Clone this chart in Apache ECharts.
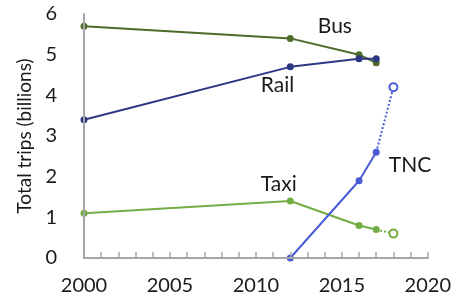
<!DOCTYPE html>
<html>
<head>
<meta charset="utf-8">
<script src="https://cdn.jsdelivr.net/npm/echarts@6/dist/echarts.min.js"></script>
<style>
  html, body { margin: 0; padding: 0; background: #fff; }
  #chart { width: 454px; height: 303px; }
</style>
</head>
<body>
<div id="chart"></div>
<script>
// values (billions of trips)
const busYears = [2000, 2012, 2016, 2017]
const busTrips = [5.7, 5.4, 5.0, 4.8]
const railYears = [2000, 2012, 2016, 2017]
const railTrips = [3.4, 4.7, 4.9, 4.9]
const taxiYears = [2000, 2012, 2016, 2017]
const taxiTrips = [1.1, 1.4, 0.8, 0.7]
const taxiEstYear = 2018
const taxiEst = 0.6
const tncYears = [2012, 2016, 2017]
const tncTrips = [0, 1.9, 2.6]
const tncEstYear = 2018
const tncEst = 4.2

const font = 'Lato, sans-serif'

// build points; one point per series carries the series name as its label
function points(xs, ys, labelAt, text, offset) {
    return xs.map((x, i) => {
        if (i !== labelAt) return [x, ys[i]]
        return {
            value: [x, ys[i]],
            label: {
                show: true, formatter: text, position: offset,
                fontFamily: font, fontSize: 21, color: '#1a1a1a'
            }
        }
    })
}

function solid(name, data, color) {
    return {
        name, type: 'line', data, color,
        symbol: 'circle', symbolSize: 7,
        lineStyle: { width: 2, color },
        itemStyle: { color }
    }
}
function dotted(name, from, to, color) {
    return {
        name: name + ' est', type: 'line', color,
        data: [{ value: from, symbol: 'none' }, { value: to }],
        symbol: 'emptyCircle', symbolSize: 8,
        lineStyle: { width: 2, type: [2, 2], color },
        itemStyle: { color, borderWidth: 1.5 }
    }
}

const colBus = '#4e6b2c'
const colRail = '#2d3784'
const colTaxi = '#72ad45'
const colTnc = '#4a5bd6'
const axisCol = '#a6a6a6'

const chart = echarts.init(document.getElementById('chart'))
chart.setOption({
    animation: false,
    grid: { left: 84, right: 24, top: 14, bottom: 45 },
    xAxis: {
        type: 'value', min: 2000, max: 2020, interval: 5, z: 10,
        axisLine: { show: true, onZero: false, lineStyle: { color: axisCol, width: 2 } },
        axisTick: { show: true, inside: true, length: 6, lineStyle: { color: axisCol, width: 1.5 } },
        minorTick: { show: true, splitNumber: 5, length: 6, lineStyle: { color: axisCol, width: 1.5 } },
        splitLine: { show: false },
        axisLabel: { fontFamily: font, fontSize: 20, color: '#1a1a1a', margin: 18, formatter: v => String(v) }
    },
    yAxis: {
        type: 'value', min: 0, max: 6, interval: 1, z: 10,
        name: 'Total trips (billions)', nameLocation: 'middle', nameGap: 46,
        nameTextStyle: { fontFamily: font, fontSize: 19, color: '#1a1a1a' },
        axisLine: { show: true, lineStyle: { color: axisCol, width: 2 } },
        axisTick: { show: false },
        splitLine: { show: false },
        axisLabel: { fontFamily: font, fontSize: 20, color: '#1a1a1a', margin: 27 }
    },
    series: [
        solid('Bus', points(busYears, busTrips, 1, 'Bus', [31, -19]), colBus),
        solid('Rail', points(railYears, railTrips, 1, 'Rail', [-26, 11]), colRail),
        solid('Taxi', points(taxiYears, taxiTrips, 1, 'Taxi', [-26, -24]), colTaxi),
        dotted('Taxi', [taxiYears[3], taxiTrips[3]], [taxiEstYear, taxiEst], colTaxi),
        solid('TNC', points(tncYears, tncTrips, 2, 'TNC', [16, 6]), colTnc),
        dotted('TNC', [tncYears[2], tncTrips[2]], [tncEstYear, tncEst], colTnc)
    ]
})
</script>
</body>
</html>
